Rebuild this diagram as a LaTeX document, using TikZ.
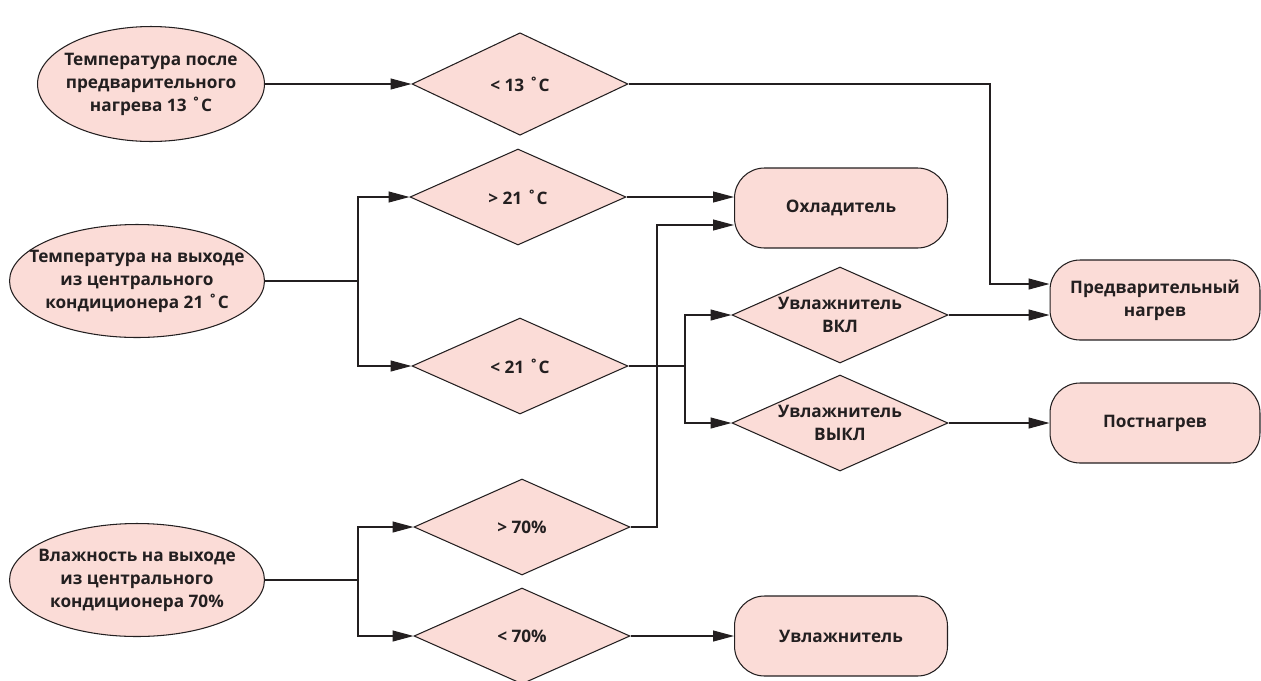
\documentclass[tikz,border=0pt]{standalone}
\usepackage{fontspec}
\setmainfont{Open Sans}
\usetikzlibrary{shapes.geometric, arrows.meta}
\definecolor{boxfill}{RGB}{251,220,215}
\definecolor{inkgray}{RGB}{35,31,32}
\begin{document}
\begin{tikzpicture}[x=0.02cm, y=-0.02cm,
  every node/.style={font=\bfseries\fontsize{9.8}{13.1}\selectfont, text=inkgray},
  sensor/.style={ellipse, draw=inkgray, fill=boxfill, line width=0.6pt, minimum height=2.26cm, inner sep=0pt},
  decision/.style={diamond, draw=inkgray, fill=boxfill, line width=0.6pt, aspect=2.25, minimum width=4.32cm, minimum height=1.92cm, inner sep=0pt, align=center},
  device/.style={rectangle, rounded corners=0.6cm, draw=inkgray, fill=boxfill, line width=0.6pt, minimum width=4.26cm, minimum height=1.6cm, align=center},
  arr/.style={-{Triangle[length=0.42cm, width=0.22cm]}},
  wire/.style={draw=inkgray, line width=0.6pt}
]
% Fix the page to the reference size
\useasboundingbox (0,0) rectangle (1261,680);

% Sensors (ellipses)
\node[sensor, minimum width=4.54cm, minimum height=2.3cm, label={[align=center]center:{Температура после\\предварительного\\нагрева 13 ˚C}}] (tpre) at (151,84) {};
\node[sensor, minimum width=5.1cm, label={[align=center]center:{Температура на выходе\\из центрального\\кондиционера 21 ˚C}}] (tout) at (137,281) {};
\node[sensor, minimum width=5.1cm, label={[align=center]center:{Влажность на выходе\\из центрального\\кондиционера 70\%}}] (hout) at (137,580) {};

% Conditions (diamonds)
\node[decision, minimum height=2.05cm] (lt13) at (520,84) {< 13 ˚C};
\node[decision] (gt21) at (518,197) {> 21 ˚C};
\node[decision] (lt21) at (520,366) {< 21 ˚C};
\node[decision] (gt70) at (522,527) {> 70\%};
\node[decision] (lt70) at (522,636) {< 70\%};
\node[decision] (humon) at (840,315) {Увлажнитель\\ВКЛ};
\node[decision] (humoff) at (840,423) {Увлажнитель\\ВЫКЛ};

% Devices (rounded boxes)
\node[device] (cooler) at (841,208) {Охладитель};
\node[device, minimum width=4.2cm] (preheat) at (1155,300) {Предварительный\\нагрев};
\node[device, minimum width=4.2cm] (postheat) at (1155,423) {Постнагрев};
\node[device] (humid) at (841,636) {Увлажнитель};

% Junction points
\coordinate (j13) at (990,84);
\coordinate (j21) at (358,281);
\coordinate (j70) at (358,580);
\coordinate (jlt21) at (685,366);
\coordinate (jgt70) at (657,527);

% Connectors
\draw[wire, arr] (tpre) -- (lt13);
\draw[wire, arr] (lt13.east) -- (j13) |- ([yshift=0.32cm]preheat.west);
\draw[wire] (tout.east) -- (j21);
\draw[wire, arr] (j21) |- (gt21.west);
\draw[wire, arr] (j21) |- (lt21.west);
\draw[wire, arr] (gt21) -- (gt21 -| cooler.west);
\draw[wire] (lt21.east) -- (jlt21);
\draw[wire, arr] (jlt21) |- (humon.west);
\draw[wire, arr] (jlt21) |- (humoff.west);
\draw[wire, arr] (humon) -- (humon -| preheat.west);
\draw[wire, arr] (humoff) -- (postheat);
\draw[wire] (hout.east) -- (j70);
\draw[wire, arr] (j70) |- (gt70.west);
\draw[wire, arr] (j70) |- (lt70.west);
\draw[wire, arr] (gt70.east) -- (jgt70) |- ([yshift=-0.34cm]cooler.west);
\draw[wire, arr] (lt70) -- (humid);
\end{tikzpicture}
\end{document}
